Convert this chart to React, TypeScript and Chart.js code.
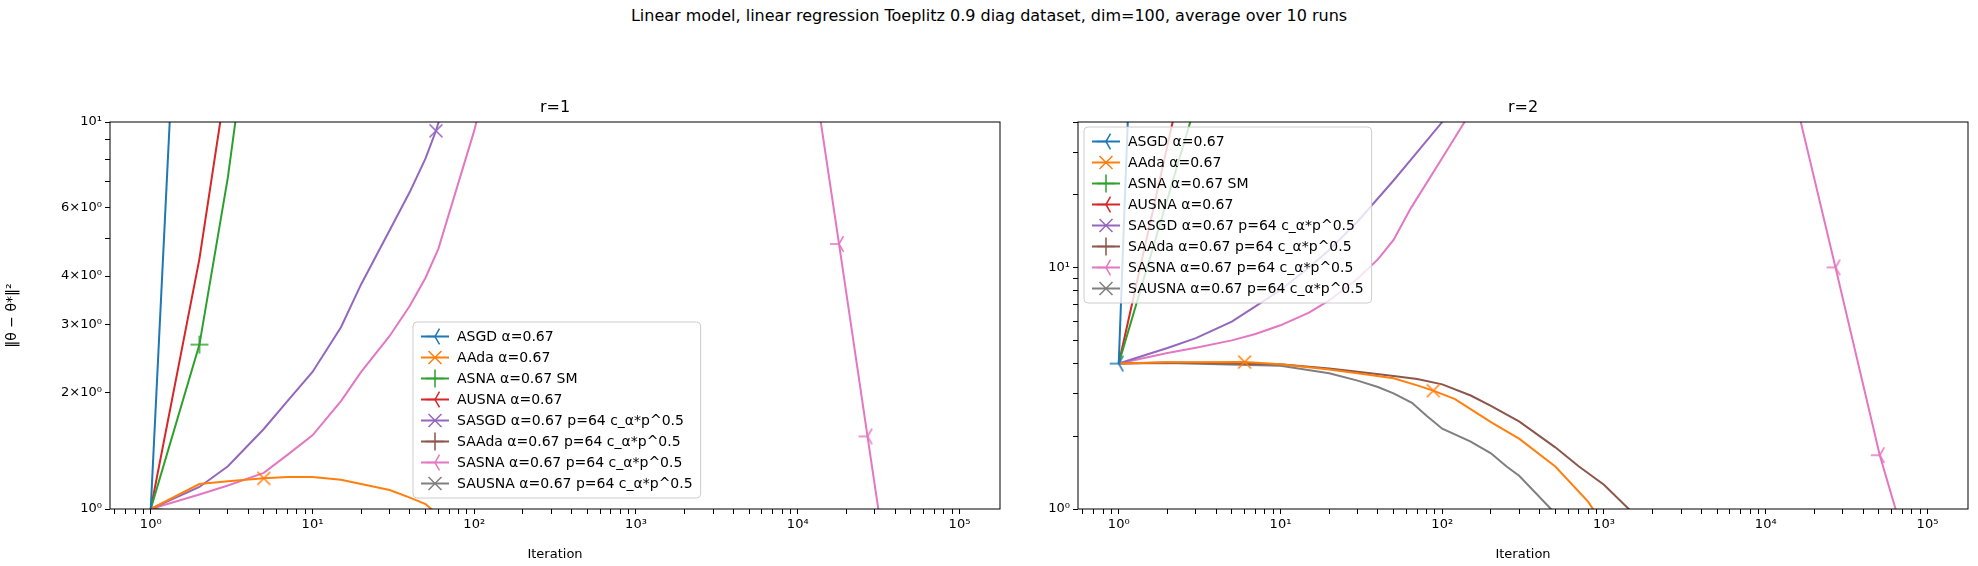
import { useEffect, useRef } from 'react';
import Chart from 'chart.js/auto';

const NAMES = [
  'ASGD α=0.67',
  'AAda α=0.67',
  'ASNA α=0.67 SM',
  'AUSNA α=0.67',
  'SASGD α=0.67 p=64 c_α*p^0.5',
  'SAAda α=0.67 p=64 c_α*p^0.5',
  'SASNA α=0.67 p=64 c_α*p^0.5',
  'SAUSNA α=0.67 p=64 c_α*p^0.5',
];
const COLORS = ['#1f77b4', '#ff7f0e', '#2ca02c', '#d62728', '#9467bd', '#8c564b', '#e377c2', '#7f7f7f'];
const MARKERS = ['tri', 'x', '+', 'tri', 'x', '+', 'tri', 'x'];

// r=1 panel
const R1_ASGD_X = [1, 2];
const R1_ASGD_Y = [1, 370];
const R1_AADA_X = [1, 2, 3, 5, 7, 10, 15, 20, 30, 40, 50, 100];
const R1_AADA_Y = [1, 1.16, 1.18, 1.2, 1.21, 1.21, 1.19, 1.16, 1.12, 1.07, 1.03, 0.8];
const R1_ASNA_X = [1, 2, 3, 4];
const R1_ASNA_Y = [1, 2.66, 7.2, 17.6];
const R1_AUSNA_X = [1, 2, 3];
const R1_AUSNA_Y = [1, 4.43, 13.5];
const R1_SASGD_X = [1, 2, 3, 5, 7, 10, 15, 20, 30, 40, 50, 58, 100];
const R1_SASGD_Y = [1, 1.14, 1.29, 1.61, 1.9, 2.26, 2.95, 3.81, 5.25, 6.6, 8.05, 9.49, 20];
const R1_SAADA_X = [1, 2, 5, 10];
const R1_SAADA_Y = [1, 0.98, 0.9, 0.8];
const R1_SASNA_X = [1, 2, 3, 5, 7, 10, 15, 20, 30, 40, 50, 60, 100, 200, 1000, 5000, 10000, 18000, 27000, 40000];
const R1_SASNA_Y = [1, 1.09, 1.15, 1.24, 1.38, 1.55, 1.9, 2.26, 2.8, 3.35, 3.96, 4.7, 9.5, 30, 500, 200, 25, 4.84, 1.54, 0.51];
const R1_SAUSNA_X = [1, 2, 5, 10];
const R1_SAUSNA_Y = [1, 0.97, 0.88, 0.75];
const R1_MARKS = [[], [5], [2], [], [58], [], [18000, 27000], []];

// r=2 panel
const R2_ASGD_X = [1, 2];
const R2_ASGD_Y = [4, 1e6];
const R2_AADA_X = [1, 2, 6, 10, 20, 30, 50, 70, 88, 120, 200, 300, 500, 800, 1000];
const R2_AADA_Y = [4, 4.05, 4.06, 3.97, 3.78, 3.65, 3.48, 3.25, 3.09, 2.85, 2.29, 1.95, 1.5, 1.07, 0.85];
const R2_ASNA_X = [1, 2, 3];
const R2_ASNA_Y = [4, 19.2, 48];
const R2_AUSNA_X = [1, 2, 3];
const R2_AUSNA_Y = [4, 32, 108];
const R2_SASGD_X = [1, 2, 3, 5, 7, 10, 15, 20, 30, 50, 70, 100, 200];
const R2_SASGD_Y = [4, 4.64, 5.1, 5.97, 6.9, 8.06, 10, 11.8, 15.5, 22.9, 30, 40, 90];
const R2_SAADA_X = [1, 2, 10, 20, 30, 50, 70, 100, 150, 200, 300, 500, 700, 1000, 2000];
const R2_SAADA_Y = [4, 4.04, 3.97, 3.82, 3.7, 3.55, 3.45, 3.28, 2.95, 2.67, 2.3, 1.8, 1.5, 1.26, 0.8];
const R2_SASNA_X = [1, 2, 3, 5, 7, 10, 15, 20, 30, 40, 50, 64, 100, 200, 1000, 5000, 10000, 27000, 50700, 70000];
const R2_SASNA_Y = [4, 4.42, 4.65, 4.99, 5.3, 5.76, 6.5, 7.3, 9.0, 10.8, 13, 17.6, 28.4, 60, 800, 600, 162, 10, 1.67, 0.8];
const R2_SAUSNA_X = [1, 2, 10, 20, 30, 40, 50, 65, 80, 100, 150, 200, 250, 300, 470, 700];
const R2_SAUSNA_Y = [4, 4.02, 3.92, 3.65, 3.4, 3.2, 3.01, 2.75, 2.43, 2.15, 1.9, 1.7, 1.5, 1.37, 1.0, 0.75];
const R2_MARKS = [[1], [6, 88], [], [], [], [], [27000, 50700], []];

const R1_X = [R1_ASGD_X, R1_AADA_X, R1_ASNA_X, R1_AUSNA_X, R1_SASGD_X, R1_SAADA_X, R1_SASNA_X, R1_SAUSNA_X];
const R1_Y = [R1_ASGD_Y, R1_AADA_Y, R1_ASNA_Y, R1_AUSNA_Y, R1_SASGD_Y, R1_SAADA_Y, R1_SASNA_Y, R1_SAUSNA_Y];
const R2_X = [R2_ASGD_X, R2_AADA_X, R2_ASNA_X, R2_AUSNA_X, R2_SASGD_X, R2_SAADA_X, R2_SASNA_X, R2_SAUSNA_X];
const R2_Y = [R2_ASGD_Y, R2_AADA_Y, R2_ASNA_Y, R2_AUSNA_Y, R2_SASGD_Y, R2_SAADA_Y, R2_SASNA_Y, R2_SAUSNA_Y];

const R1_Y_TICKS = [1, 2, 3, 4, 5, 6, 7, 8, 9, 10];
const R1_Y_LABELS: Record<number, string> = { 1: '10⁰', 2: '2×10⁰', 3: '3×10⁰', 4: '4×10⁰', 6: '6×10⁰', 10: '10¹' };
const R2_Y_TICKS = [1, 2, 3, 4, 5, 6, 7, 8, 9, 10, 20, 30, 40];
const R2_Y_LABELS: Record<number, string> = { 1: '10⁰', 10: '10¹' };

const SUP = '⁰¹²³⁴⁵⁶⁷⁸⁹';
const FONT = 'DejaVu Sans';

function drawMarker(ctx: CanvasRenderingContext2D, kind: string, cx: number, cy: number, r: number) {
  ctx.beginPath();
  if (kind === 'x') {
    const d = r * 0.72;
    ctx.moveTo(cx - d, cy - d); ctx.lineTo(cx + d, cy + d);
    ctx.moveTo(cx - d, cy + d); ctx.lineTo(cx + d, cy - d);
  } else if (kind === '+') {
    ctx.moveTo(cx - r, cy); ctx.lineTo(cx + r, cy);
    ctx.moveTo(cx, cy - r); ctx.lineTo(cx, cy + r);
  } else {
    ctx.moveTo(cx, cy); ctx.lineTo(cx - r, cy);
    ctx.moveTo(cx, cy); ctx.lineTo(cx + r * 0.5, cy - r * 0.866);
    ctx.moveTo(cx, cy); ctx.lineTo(cx + r * 0.5, cy + r * 0.866);
  }
  ctx.stroke();
}

function markerImage(kind: string, color: string) {
  const c = document.createElement('canvas');
  c.width = 20; c.height = 20;
  const ctx = c.getContext('2d')!;
  ctx.strokeStyle = color;
  ctx.lineWidth = 1.5;
  drawMarker(ctx, kind, 10, 10, 9);
  return c;
}

function xTicks() {
  const out: number[] = [0.6, 0.7, 0.8, 0.9];
  for (let e = 0; e <= 5; e++) for (let m = 1; m <= 9; m++) out.push(m * Math.pow(10, e));
  return out.filter((v) => v <= 178000);
}

type PanelProps = {
  title: string;
  xs: number[][];
  ys: number[][];
  marks: number[][];
  yMax: number;
  yTicks: number[];
  yLabels: Record<number, string>;
  yWidth: number;
  rightPad: number;
  yTitle: string;
  legendAt: { dx: number; top?: number; bottom?: number };
};

function Panel(p: PanelProps) {
  const ref = useRef<HTMLCanvasElement | null>(null);

  useEffect(() => {
    const ctx = ref.current?.getContext('2d');
    if (!ctx) return;
    const imgs = COLORS.map((c, i) => markerImage(MARKERS[i], c));

    const frame = {
      id: 'frame',
      afterDraw(chart: any) {
        const { ctx: g, chartArea: a } = chart;
        g.save();
        g.strokeStyle = '#000';
        g.lineWidth = 1;
        g.strokeRect(a.left, a.top, a.right - a.left, a.bottom - a.top);
        g.fillStyle = '#000';
        g.font = `16px ${FONT}`;
        g.textAlign = 'center';
        g.textBaseline = 'bottom';
        g.fillText(p.title, (a.left + a.right) / 2, a.top - 6);

        // legend
        g.font = `14px ${FONT}`;
        const rowH = 21;
        const w = Math.max(...NAMES.map((n) => g.measureText(n).width)) + 52;
        const h = rowH * NAMES.length + 8;
        const lx = a.left + p.legendAt.dx;
        const ly = p.legendAt.top !== undefined ? a.top + p.legendAt.top : a.bottom - p.legendAt.bottom! - h;
        g.fillStyle = 'rgba(255,255,255,0.8)';
        g.strokeStyle = '#cccccc';
        g.beginPath();
        g.roundRect(lx, ly, w, h, 4);
        g.fill();
        g.stroke();
        g.textAlign = 'left';
        g.textBaseline = 'middle';
        NAMES.forEach((n, i) => {
          const cy = ly + 4 + rowH * i + rowH / 2;
          g.strokeStyle = COLORS[i];
          g.lineWidth = 2;
          g.beginPath();
          g.moveTo(lx + 8, cy); g.lineTo(lx + 36, cy);
          g.stroke();
          g.lineWidth = 1.5;
          drawMarker(g, MARKERS[i], lx + 22, cy, 9);
          g.fillStyle = '#000';
          g.fillText(n, lx + 44, cy + 1);
        });
        g.restore();
      },
    };

    const chart = new Chart(ctx, {
      type: 'line',
      data: {
        datasets: NAMES.map((n, i) => ({
          label: n,
          data: p.xs[i].map((x, j) => ({ x, y: p.ys[i][j] })),
          borderColor: COLORS[i],
          borderWidth: 2,
          tension: 0,
          fill: false,
          pointStyle: imgs[i] as any,
          pointRadius: p.xs[i].map((x) => (p.marks[i].includes(x) ? 9 : 0)),
          pointHoverRadius: 0,
        })),
      },
      options: {
        animation: false,
        responsive: false,
        maintainAspectRatio: false,
        layout: { padding: { top: 122, right: p.rightPad, left: 0, bottom: 0 } },
        plugins: { legend: { display: false }, tooltip: { enabled: false } },
        scales: {
          x: {
            type: 'logarithmic',
            min: 0.56,
            max: 178000,
            afterBuildTicks: (s: any) => {
              s.ticks = xTicks().map((v) => ({ value: v }));
            },
            afterFit: (s: any) => { s.height = 57; },
            ticks: {
              autoSkip: false,
              maxRotation: 0,
              color: '#000',
              font: { family: FONT, size: 13 },
              callback: (v: any) => {
                const e = Math.log10(Number(v));
                return Math.abs(e - Math.round(e)) < 1e-9 ? '10' + SUP[Math.round(e)] : '';
              },
            },
            grid: { drawOnChartArea: false, color: '#000', tickLength: 5 },
            border: { display: false },
            title: { display: true, text: 'Iteration', color: '#000', font: { family: FONT, size: 13 }, padding: { top: 0 } },
          },
          y: {
            type: 'logarithmic',
            min: 1,
            max: p.yMax,
            afterBuildTicks: (s: any) => {
              s.ticks = p.yTicks.map((v) => ({ value: v }));
            },
            afterFit: (s: any) => { s.width = p.yWidth; },
            ticks: {
              autoSkip: false,
              color: '#000',
              font: { family: FONT, size: 13 },
              callback: (v: any) => p.yLabels[Number(v)] ?? '',
            },
            grid: { drawOnChartArea: false, color: '#000', tickLength: 5 },
            border: { display: false },
            title: { display: p.yTitle !== '', text: p.yTitle, color: '#000', font: { family: FONT, size: 14 } },
          },
        },
      },
      plugins: [frame],
    });

    return () => {
      chart.destroy();
    };
  }, []);

  return <canvas ref={ref} width={p.yWidth + 890 + p.rightPad} height={566} style={{ display: 'block' }} />;
}

export default function App() {
  useEffect(() => {
    document.body.style.margin = '0';
  }, []);
  return (
    <div style={{ position: 'relative', width: 1978, height: 566, background: '#fff', fontFamily: FONT }}>
      <div style={{ position: 'absolute', top: 6, left: 0, width: 1978, textAlign: 'center', fontSize: 16 }}>
        Linear model, linear regression Toeplitz 0.9 diag dataset, dim=100, average over 10 runs
      </div>
      <div style={{ position: 'absolute', left: 0, top: 0 }}>
        <Panel title="r=1" xs={R1_X} ys={R1_Y} marks={R1_MARKS} yMax={10} yTicks={R1_Y_TICKS} yLabels={R1_Y_LABELS}
          yWidth={110} rightPad={40} yTitle="‖θ − θ*‖²" legendAt={{ dx: 303, bottom: 11 }} />
      </div>
      <div style={{ position: 'absolute', left: 1040, top: 0 }}>
        <Panel title="r=2" xs={R2_X} ys={R2_Y} marks={R2_MARKS} yMax={40} yTicks={R2_Y_TICKS} yLabels={R2_Y_LABELS}
          yWidth={38} rightPad={13} yTitle="" legendAt={{ dx: 6, top: 5 }} />
      </div>
    </div>
  );
}
